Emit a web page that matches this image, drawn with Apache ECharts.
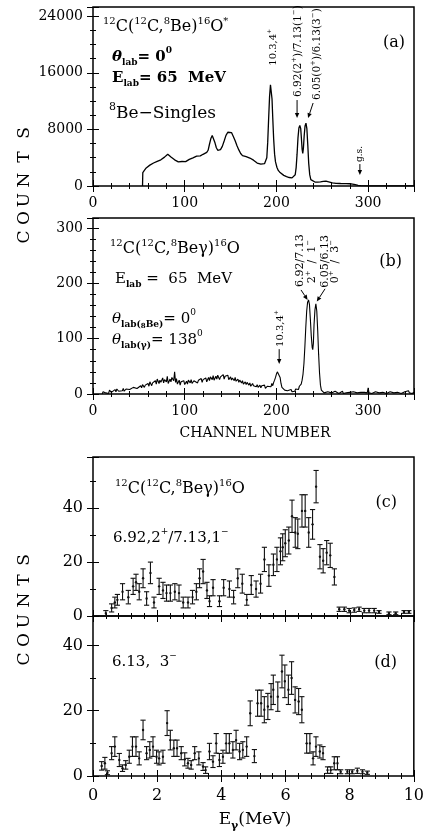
<!DOCTYPE html>
<html><head><meta charset="utf-8">
<script src="https://cdn.jsdelivr.net/npm/echarts@6/dist/echarts.min.js"></script>
<style>html,body{margin:0;padding:0;background:#fff}#c{width:427px;height:837px}</style>
</head><body><div id="c"></div>
<script>
// ---------------- DATA ----------------
// (a) 8Be singles spectrum: [channel, counts]
const singlesA = [[54,0],[54.3,1900],[56,2200],[58,2550],[60,2800],[62,2950],[64,3100],[66,3250],[68,3350],[70,3480],[72,3600],[74,3700],[76,3880],[78,4080],[80,4300],[81.5,4500],[83,4350],[85,4100],[87,3900],[89,3700],[91,3550],[93,3420],[95,3380],[97,3460],[99,3520],[101,3440],[103,3600],[105,3760],[107,3850],[109,3980],[110,4120],[111,4000],[113,4230],[114,4150],[115,4330],[117,4250],[118,4420],[120,4480],[122,4600],[124,4750],[125.5,5050],[127,5900],[128.5,6700],[130,7150],[131.5,6900],[133,6100],[134.5,5400],[136,5050],[137.5,4950],[139,5150],[141,5600],[143,6350],[145,7150],[147,7600],[149,7750],[151,7550],[153,7000],[155,6400],[157,5700],[159,5100],[161,4600],[163,4300],[165,4200],[167,4150],[169,4050],[171,3950],[173,3850],[175,3650],[177,3400],[179,3250],[181,3150],[183,3100],[185,3120],[187,3150],[188.5,3300],[189.5,4000],[190.5,6200],[191.5,9500],[192.5,12600],[193.5,14300],[194.3,14200],[195.2,12300],[196,9600],[197,6600],[198,4500],[199,3400],[200.5,2650],[202,2200],[204,1900],[206,1700],[208,1500],[211,1320],[214,1200],[217,1150],[219,1250],[220.5,1600],[221.5,2600],[222.5,4500],[223.5,6800],[224.5,8200],[225.5,8550],[226.5,8100],[227.3,6600],[228,5200],[228.7,4600],[229.4,5300],[230.2,7000],[231.2,8500],[232.2,8880],[233.2,8100],[234.2,5800],[235.2,3200],[236.3,1600],[237.5,900],[239,620],[242,560],[245,540],[248,580],[251,640],[254,700],[256,680],[258,560],[261,430],[265,380],[270,350],[276,330],[280,320],[283,260],[286,180],[289,90],[292,40],[300,20],[320,15],[351,10]];

// (b) 8Be-gamma coincidence spectrum: [channel, counts]
const coincB = [[10,0],[11,4],[12,1],[13,6],[14,2],[16,5],[17,1],[18,7],[20,3],[21,6],[22,2],[24,8],[25,4],[26,9],[28,5],[29,3],[30,8],[32,6],[33,10],[34,5],[36,9],[37,7],[38,12],[40,8],[41,11],[42,6],[44,12],[45,9],[46,14],[48,10],[49,13],[50,8],[52,15],[53,11],[54,17],[56,12],[57,16],[58,13],[60,19],[61,14],[62,22],[64,15],[65,20],[66,17],[68,24],[69,18],[70,27],[72,19],[73,25],[74,21],[76,29],[77,20],[78,26],[80,22],[81,32],[82,19],[84,27],[85,22],[86,30],[88,24],[89,40],[90,21],[91,28],[92,18],[94,25],[95,16],[96,22],[98,19],[99,24],[100,17],[102,23],[103,18],[104,25],[106,20],[107,26],[108,19],[110,24],[111,21],[112,27],[114,20],[115,25],[116,22],[118,28],[119,21],[120,26],[122,23],[123,29],[124,22],[126,30],[127,24],[128,31],[130,26],[131,33],[132,25],[134,32],[135,27],[136,34],[138,26],[139,31],[140,28],[142,35],[143,27],[144,32],[146,29],[147,34],[148,26],[150,31],[151,25],[152,29],[154,24],[155,30],[156,23],[158,27],[159,21],[160,25],[162,20],[163,24],[164,18],[166,22],[167,17],[168,21],[170,16],[171,20],[172,14],[174,19],[175,15],[176,18],[178,13],[179,17],[180,12],[182,16],[183,11],[184,15],[186,12],[187,16],[188,10],[190,14],[191,11],[192,16],[194,13],[195,19],[196,15],[197,21],[198,25],[199,30],[200,36],[201,40],[202,43],[203,40],[204,30],[205,19],[206,12],[207,9],[208,12],[209,7],[210,10],[212,6],[213,9],[214,5],[216,8],[217,4],[218,7],[220,5],[221,9],[222,6],[223,11],[224,8],[225,14],[226,12],[227,18],[228,25],[229,36],[230,55],[231,85],[232,120],[233,150],[234,166],[235,170],[236,162],[237,135],[238,105],[239,84],[239.6,80],[240.3,92],[241,125],[242,152],[243,163],[244,150],[245,115],[246,72],[247,38],[248,16],[249,7],[250,4],[252,2],[253,5],[254,1],[256,4],[257,2],[258,6],[260,2],[261,4],[262,1],[264,5],[265,2],[266,3],[268,1],[269,4],[270,2],[272,5],[273,1],[274,3],[276,2],[277,4],[278,1],[280,3],[281,5],[282,2],[284,4],[285,1],[286,3],[288,2],[289,4],[290,1],[292,3],[293,5],[294,2],[296,3],[297,1],[298,4],[299,2],[300,11],[301,2],[302,4],[304,1],[305,3],[306,2],[308,4],[309,1],[310,3],[312,2],[313,5],[314,1],[316,3],[317,2],[318,4],[320,1],[321,3],[322,2],[324,4],[325,1],[326,3],[328,2],[329,4],[330,1],[332,3],[333,2],[334,5],[336,1],[337,3],[338,2],[340,4],[341,1],[342,3],[344,6],[345,2],[346,4],[348,1],[350,3]];

// (c) gamma spectrum gated on 6.92/7.13: [E MeV, counts, error]
const gammaC = [[0.40,1,1],[0.58,3,1.5],[0.68,5,2],[0.76,6,2],[0.92,9,3],[1.10,7,2.5],[1.25,11,3],[1.34,12.5,3],[1.44,9,3],[1.56,14,3.5],[1.67,6.5,2.5],[1.79,16,4],[1.90,5,2],[2.06,11,3],[2.18,9.5,3],[2.29,8.5,3],[2.41,8.5,3],[2.55,9,3],[2.68,8.5,3],[2.81,5,2],[2.96,5,2],[3.10,7,2.5],[3.22,9,3],[3.32,14,3.5],[3.43,16.5,4.5],[3.55,9.5,3],[3.63,5.5,2],[3.74,10.5,3],[3.94,5.5,2],[4.07,10.5,3],[4.25,10,3],[4.38,7,2.5],[4.51,14,3.5],[4.65,12,3.5],[4.79,6,2],[4.93,11.5,3.5],[5.08,10,3],[5.22,12,3.5],[5.34,21,4.5],[5.48,15,4],[5.62,19,4],[5.73,21,4.5],[5.84,24,5],[5.91,25.5,5],[5.99,27,5],[6.10,28,5],[6.20,37,6],[6.30,31,5.5],[6.38,30.5,5.5],[6.51,39,6],[6.61,39,6],[6.72,31,5.5],[6.84,34,5.5],[6.95,48,6],[7.07,22,4.5],[7.17,20.5,4.5],[7.28,23.5,4.5],[7.39,22.5,4.5],[7.52,14.5,3],[7.67,2.5,0.8],[7.83,2.5,0.8],[7.98,2,0.8],[8.14,2.2,0.8],[8.29,2.5,0.8],[8.45,2,0.8],[8.60,2,0.8],[8.76,2,0.8],[8.91,1.5,0.5],[9.22,1,0.5],[9.43,1,0.5],[9.69,1.5,0.5],[9.84,1.5,0.5]];

// (d) gamma spectrum gated on 6.05/6.13: [E MeV, counts, error]
const gammaD = [[0.27,3.1,1.3],[0.37,3.9,1.8],[0.45,1,0.6],[0.58,7,2],[0.68,9,3],[0.82,4.9,2],[0.92,2.4,1],[1.02,3.4,1.3],[1.13,5.9,2],[1.23,9,3],[1.34,9,3],[1.44,5.4,2],[1.56,14.1,3],[1.67,7,2],[1.77,8,2.5],[1.87,9,3],[1.98,5.9,2],[2.06,5.4,2],[2.18,5.9,2],[2.31,16.2,3.8],[2.41,11,3],[2.52,8.5,2.5],[2.62,8.5,2.5],[2.75,7,2],[2.86,5.1,2],[2.96,3.9,1.5],[3.06,3.4,1.3],[3.17,7,2],[3.30,5.4,2],[3.43,2.9,1.2],[3.51,1.8,1],[3.63,7.5,2.5],[3.74,4.4,1.8],[3.84,10,3],[3.94,4.9,2],[4.05,5.9,2],[4.15,10,3],[4.25,10,3],[4.36,8,2.5],[4.46,11,3],[4.57,7.5,2.5],[4.67,8,2.5],[4.79,9,3],[4.90,19.2,3.8],[5.03,6.1,2],[5.13,22.3,4],[5.24,22.3,4],[5.34,20.3,4],[5.45,21.3,4],[5.55,24.3,4],[5.62,26.4,4.5],[5.76,24.3,4.5],[5.89,32,5],[5.98,29,5],[6.09,26.4,4.5],[6.19,30,5],[6.30,23.3,4],[6.41,22.8,4],[6.51,20.3,4],[6.66,10,3],[6.76,10,3],[6.86,5.4,2],[6.95,9,3],[7.07,7.5,2],[7.17,7,2],[7.31,1.8,1],[7.41,1.8,1],[7.52,3.9,2],[7.62,3.9,2],[7.72,1.3,0.6],[7.93,1.3,0.6],[8.08,1.3,0.6],[8.24,1.6,0.8],[8.40,1.3,0.6],[8.55,1,0.5]];

// tick labels
const channelTicks = [0,100,200,300];
const countTicksA = [0,8000,16000,24000];
const countTicksB = [0,100,200,300];
const countTicksCD = [0,20,40];
const energyTicks = [0,2,4,6,8,10];

// ---------------- CHART ----------------
const FF = '"DejaVu Serif","Liberation Serif",serif';
const chart = echarts.init(document.getElementById('c'), null, {renderer:'canvas'});

const grids = [
  {left:93, width:321, top:7, height:179},
  {left:93, width:321, top:218, height:176},
  {left:93, width:321, top:457, height:159},
  {left:93, width:321, top:616, height:160}
];
const xCfg = [
  {min:0,max:350,major:100,minor:20,labels:channelTicks,fs:14,margin:10},
  {min:0,max:350,major:100,minor:20,labels:channelTicks,fs:14,margin:10},
  {min:0,max:10,major:2,minor:0.4,labels:null},
  {min:0,max:10,major:2,minor:0.4,labels:energyTicks,fs:16,margin:12}
];
const yCfg = [
  {min:0,max:25300,major:8000,minor:2000,labels:countTicksA,fs:14,margin:10},
  {min:0,max:318,major:100,minor:20,labels:countTicksB,fs:14,margin:10},
  {min:0,max:59,major:20,minor:10,labels:countTicksCD,fs:16,margin:10},
  {min:0,max:49,major:20,minor:10,labels:countTicksCD,fs:16,margin:10}
];
function axisSet(dim, gi, c) {
  const pos = dim === 'x' ? ['bottom','top'] : ['left','right'];
  const out = [];
  pos.forEach((p, k) => {
    [[c.major, 6], [c.minor, 3]].forEach(([iv, len], j) => {
      const lab = (k === 0 && j === 0 && c.labels);
      out.push({
        type:'value', gridIndex:gi, position:p, min:c.min, max:c.max, interval:iv,
        axisLine:{show:false}, splitLine:{show:false},
        axisTick:{show:true, inside:true, length:len, lineStyle:{color:'#000', width:1}},
        axisLabel: lab ? {show:true, margin:c.margin, fontSize:c.fs, fontFamily:FF, color:'#000',
          formatter: v => c.labels.some(t => Math.abs(t - v) < 1e-9) ? String(v) : ''} : {show:false}
      });
    });
  });
  return out;
}
let xAxes = [], yAxes = [];
for (let g = 0; g < 4; g++) { xAxes = xAxes.concat(axisSet('x', g, xCfg[g])); yAxes = yAxes.concat(axisSet('y', g, yCfg[g])); }

function errRender(params, api) {
  const x = api.value(0), y = api.value(1), e = api.value(2);
  const p = api.coord([x, y]);
  const pt = api.coord([x, y + e]);
  const pb = api.coord([x, Math.max(y - e, 0)]);
  const hw = 2.6, st = {stroke:'#111', lineWidth:1.1};
  return {type:'group', children:[
    {type:'line', shape:{x1:p[0], y1:pt[1], x2:p[0], y2:pb[1]}, style:st},
    {type:'line', shape:{x1:p[0]-hw, y1:pt[1], x2:p[0]+hw, y2:pt[1]}, style:st},
    {type:'line', shape:{x1:p[0]-hw, y1:pb[1], x2:p[0]+hw, y2:pb[1]}, style:st},
    {type:'circle', shape:{cx:p[0], cy:p[1], r:1.2}, style:{fill:'#111'}}
  ]};
}

chart.setOption({
  animation:false, backgroundColor:'#fff',
  grid: grids.map(g => Object.assign({show:true, borderColor:'#000', borderWidth:1.5, backgroundColor:'transparent', containLabel:false}, g)),
  xAxis: xAxes, yAxis: yAxes,
  series: [
    {type:'line', xAxisIndex:0, yAxisIndex:0, data:singlesA, showSymbol:false, symbol:'none', lineStyle:{color:'#000', width:1.3}},
    {type:'line', xAxisIndex:4, yAxisIndex:4, data:coincB, showSymbol:false, symbol:'none', lineStyle:{color:'#000', width:1.1}},
    {type:'custom', xAxisIndex:8, yAxisIndex:8, data:gammaC, renderItem:errRender, encode:{x:0, y:1}},
    {type:'custom', xAxisIndex:12, yAxisIndex:12, data:gammaD, renderItem:errRender, encode:{x:0, y:1}}
  ]
});

// ---------------- ANNOTATIONS ----------------
function rich(sz, bold) {
  const w = bold ? 'bold' : 'normal';
  const ss = Math.round(sz * 0.62);
  return {
    m:{fontSize:sz, fontFamily:FF, fontWeight:w, lineHeight:Math.round(sz*1.4)},
    it:{fontSize:sz, fontFamily:FF, fontStyle:'italic', fontWeight:w, lineHeight:Math.round(sz*1.4)},
    s:{fontSize:ss, fontFamily:FF, fontWeight:w, lineHeight:ss, verticalAlign:'top'},
    b:{fontSize:ss, fontFamily:FF, fontWeight:'bold', lineHeight:ss, verticalAlign:'bottom'},
    bs:{fontSize:Math.round(sz*0.45), fontFamily:FF, fontWeight:'bold', lineHeight:Math.round(sz*1.05), verticalAlign:'bottom'}
  };
}
function txt(x, y, text, sz, opt) {
  opt = opt || {};
  return {type:'text', x:x, y:y, rotation:opt.rot || 0, z:100,
    style:{text:text, rich:rich(sz, opt.bold), fill:'#000', fontFamily:FF, fontSize:sz,
      align:opt.align || 'left', verticalAlign:'middle', textAlign:opt.align || 'left', textVerticalAlign:'middle'}};
}
function arrow(p1, p2) {
  const dx = p2[0]-p1[0], dy = p2[1]-p1[1], L = Math.hypot(dx, dy), ux = dx/L, uy = dy/L;
  const hl = 5, hw = 2.2, bx = p2[0]-ux*hl, by = p2[1]-uy*hl;
  return [
    {type:'line', z:100, shape:{x1:p1[0], y1:p1[1], x2:bx, y2:by}, style:{stroke:'#000', lineWidth:1}},
    {type:'polygon', z:100, shape:{points:[[p2[0],p2[1]],[bx-uy*hw, by+ux*hw],[bx+uy*hw, by-ux*hw]]}, style:{fill:'#000'}}
  ];
}
const P = (si, pt) => chart.convertToPixel({seriesIndex:si}, pt);
const R90 = Math.PI / 2;
let G = [];
// panel (a)
G.push(txt(103, 27, '{s|12}{m|C(}{s|12}{m|C,}{s|8}{m|Be)}{s|16}{m|O}{s|*}', 16));
G.push(txt(112, 57, '{it|θ}{b|lab}{m|= 0}{s|0}', 15, {bold:true}));
G.push(txt(112, 78, '{m|E}{b|lab}{m|= 65  MeV}', 15, {bold:true}));
G.push(txt(109, 114, '{s|8}{m|Be−Singles}', 17));
G.push(txt(405, 43, '{m|(a)}', 16, {align:'right'}));
let q = P(0, [197, 17000]); G.push(txt(q[0], q[1], '{m|10.3,4}{s|+}', 10, {rot:R90}));
q = P(0, [223.5, 12580]); G.push(txt(q[0], q[1], '{m|6.92(2}{s|+}{m|)/7.13(1}{s|−}{m|)}', 10.5, {rot:R90}));
q = P(0, [244, 12150]); G.push(txt(q[0], q[1], '{m|6.05(0}{s|+}{m|)/6.13(3}{s|−}{m|)}', 10.5, {rot:R90}));
q = P(0, [291, 3390]); G.push(txt(q[0], q[1], '{m|g.s.}', 9, {rot:R90}));
G = G.concat(arrow(P(0,[222.5,12150]), P(0,[222.5,9600])));
G = G.concat(arrow(P(0,[240,11730]), P(0,[234.5,9600])));
G = G.concat(arrow(P(0,[291,3100]), P(0,[291,1550])));
// panel (b)
G.push(txt(110, 249, '{s|12}{m|C(}{s|12}{m|C,}{s|8}{m|Beγ)}{s|16}{m|O}', 16));
G.push(txt(115, 279, '{m|E}{b|lab}{m| =  65  MeV}', 15));
G.push(txt(112, 319, '{it|θ}{b|lab(}{bs|8}{b|Be)}{m|= 0}{s|0}', 15));
G.push(txt(112, 340, '{it|θ}{b|lab(γ)}{m|= 138}{s|0}', 15));
G.push(txt(402, 262, '{m|(b)}', 16, {align:'right'}));
q = P(1, [204, 85]); G.push(txt(q[0], q[1], '{m|10.3,4}{s|+}', 10, {rot:R90}));
q = P(1, [225.5, 193.5]); G.push(txt(q[0], q[1], '{m|6.92/7.13}', 11, {rot:R90}));
q = P(1, [238.8, 200]); G.push(txt(q[0], q[1], '{m|2}{s|+}{m|  /  1}{s|−}', 11, {rot:R90}));
q = P(1, [253, 192]); G.push(txt(q[0], q[1], '{m|6.05/6.13}', 11, {rot:R90}));
q = P(1, [264.5, 200]); G.push(txt(q[0], q[1], '{m|0}{s|+}{m|  /  3}{s|−}', 11, {rot:R90}));
G = G.concat(arrow(P(1,[203,81]), P(1,[203,54])));
G = G.concat(arrow(P(1,[226.8,188]), P(1,[234,170])));
G = G.concat(arrow(P(1,[253,190]), P(1,[244,167])));
// panel (c), (d)
G.push(txt(115, 489, '{s|12}{m|C(}{s|12}{m|C,}{s|8}{m|Beγ)}{s|16}{m|O}', 16));
G.push(txt(113, 538, '{m|6.92,2}{s|+}{m|/7.13,1}{s|−}', 15));
G.push(txt(397, 503, '{m|(c)}', 16, {align:'right'}));
G.push(txt(112, 662, '{m|6.13,  3}{s|−}', 15));
G.push(txt(397, 663, '{m|(d)}', 16, {align:'right'}));
// axis titles
G.push(txt(255, 433, '{m|CHANNEL NUMBER}', 14, {align:'center'}));
G.push(txt(255, 820, '{m|E}{b|γ}{m|(MeV)}', 17, {align:'center'}));
const letters = ['C','O','U','N','T','S'];
const ysAB = [237, 218, 200, 180, 157, 133];
const ysCD = [659, 640, 621, 600, 580, 560];
letters.forEach((L, i) => {
  G.push(txt(25, ysAB[i], '{m|' + L + '}', 17, {rot:R90, align:'center'}));
  G.push(txt(25, ysCD[i], '{m|' + L + '}', 17, {rot:R90, align:'center'}));
});
chart.setOption({graphic: G});
</script></body></html>
